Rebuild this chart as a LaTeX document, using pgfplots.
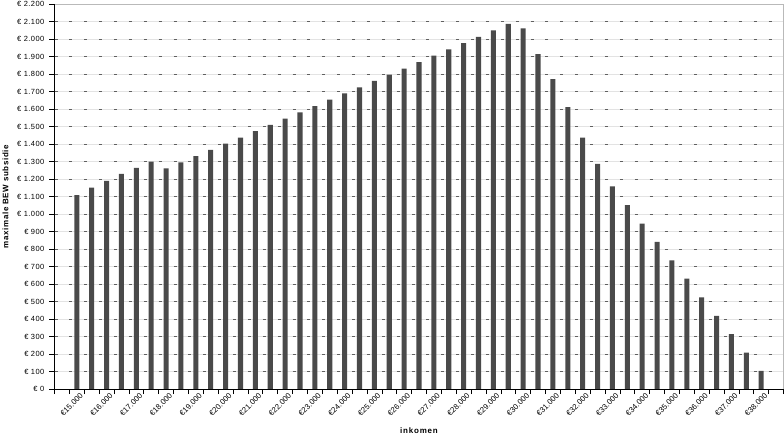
\documentclass[border=0pt]{standalone}
\usepackage{pgfplots}
\pgfplotsset{compat=1.18}
\usepackage{fontspec}
\setmainfont{Liberation Sans}
\definecolor{barc}{HTML}{4A4A4A}
\begin{document}
\begin{tikzpicture}
\begin{axis}[
  name=ax,
  scale only axis,
  width=729bp, height=385bp,
  xmin=14.25, xmax=38.75,
  ymin=0, ymax=2200,
  ybar, bar width=0.17,
  axis line style={gray!55, line width=0.8bp},
  tick align=outside,
  major tick length=5bp,
  minor tick length=5bp,
  tick style={black, line width=0.6bp},
  ytick pos=left, xtick pos=bottom,
  ytick={0,100,...,2200},
  yticklabels={€ 0,€ 100,€ 200,€ 300,€ 400,€ 500,€ 600,€ 700,€ 800,€ 900,€ 1.000,€ 1.100,€ 1.200,€ 1.300,€ 1.400,€ 1.500,€ 1.600,€ 1.700,€ 1.800,€ 1.900,€ 2.000,€ 2.100,€ 2.200},
  yticklabel style={font=\fontsize{7.5}{9}\selectfont\addfontfeature{LetterSpace=6}, anchor=east, inner sep=0pt, xshift=-5bp},
  xtick={15,16,...,38},
  xticklabels={€15.000,€16.000,€17.000,€18.000,€19.000,€20.000,€21.000,€22.000,€23.000,€24.000,€25.000,€26.000,€27.000,€28.000,€29.000,€30.000,€31.000,€32.000,€33.000,€34.000,€35.000,€36.000,€37.000,€38.000},
  minor xtick={14.25,14.75,...,38.75},
  major x tick style={draw=none},
  minor x tick style={black, line width=0.6bp},
  xticklabel style={font=\fontsize{7.8}{9}\selectfont, rotate=45, anchor=north east, inner sep=0pt, xshift=3bp, yshift=-1bp},
  ymajorgrids, xmajorgrids=false, xminorgrids=false,
  major grid style={gray!22, line width=0.8bp, postaction={draw, gray!75!black, line width=0.9bp, dash pattern=on 3bp off 11.878bp}},
  every axis y label/.style={at={(axis description cs:-0.0672,0.5)}, rotate=90, anchor=center},
  every axis x label/.style={at={(axis description cs:0.5,-0.109)}, anchor=center},
  ylabel={\fontsize{8}{9}\selectfont\bfseries\addfontfeature{LetterSpace=8}maximale BEW subsidie},
  xlabel={\fontsize{8}{9}\selectfont\bfseries\addfontfeature{LetterSpace=10}inkomen},
  clip=false,
]
\addplot[fill=barc, draw=none] table[x=x, y=y] {
x y
15 1108
15.5 1150
16 1189
16.5 1229
17 1263
17.5 1299
18 1261
18.5 1295
19 1331
19.5 1367
20 1402
20.5 1437
21 1474
21.5 1509
22 1545
22.5 1581
23 1617
23.5 1653
24 1689
24.5 1724
25 1760
25.5 1796
26 1831
26.5 1868
27 1905
27.5 1940
28 1977
28.5 2012
29 2049
29.5 2086
30 2061
30.5 1914
31 1770
31.5 1611
32 1436
32.5 1286
33 1158
33.5 1051
34 945
34.5 840
35 735
35.5 630
36 523
36.5 418
37 314
37.5 208
38 103
};
\draw[black, line width=0.8bp] (rel axis cs:0,1) -- (rel axis cs:0,0) -- (rel axis cs:1,0);
\end{axis}
\pgfresetboundingbox
\path ([shift={(-54.5bp,-46bp)}]ax.south west) rectangle ([shift={(0.5bp,4bp)}]ax.north east);
\end{tikzpicture}
\end{document}
